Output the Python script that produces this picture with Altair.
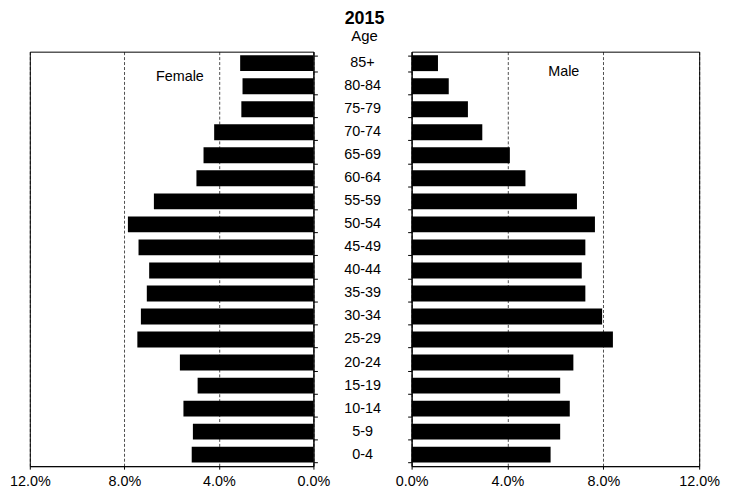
import altair as alt
import pandas as pd

ages = ["85+", "80-84", "75-79", "70-74", "65-69", "60-64", "55-59", "50-54", "45-49",
        "40-44", "35-39", "30-34", "25-29", "20-24", "15-19", "10-14", "5-9", "0-4"]
female = [3.1, 3.0, 3.05, 4.2, 4.65, 4.95, 6.75, 7.85, 7.4, 6.95, 7.05, 7.3, 7.45,
          5.65, 4.9, 5.5, 5.1, 5.15]
male = [1.1, 1.55, 2.35, 2.95, 4.1, 4.75, 6.9, 7.65, 7.25, 7.1, 7.25, 7.95, 8.4,
        6.75, 6.2, 6.6, 6.2, 5.8]
ticks = [0, 4, 8, 12]

df = pd.DataFrame({"age": ages, "female": female, "male": male})
lab_f = pd.DataFrame({"label": ["Female"], "x": [5.65], "age": ["85+"]})
lab_m = pd.DataFrame({"label": ["Male"], "x": [6.35], "age": ["85+"]})

FONT = "Liberation Sans"
FS = 14.5
H = 418

yscale = alt.Scale(domain=ages, paddingInner=0.31, paddingOuter=0.155)
box = alt.ViewBackground(stroke="black", strokeWidth=1)

def xaxis():
    return alt.Axis(values=ticks, labelExpr="format(datum.value, '.1f') + '%'",
                    title=None, grid=True, gridColor="black", gridDash=[3, 2],
                    gridWidth=0.7, domainColor="black", tickColor="black",
                    tickSize=3, labelPadding=5, labelFontSize=FS, labelFlush=False,
                    labelColor="black", labelFont=FONT)

def yaxis(orient):
    return alt.Axis(orient=orient, labels=False, title=None, tickBand="extent",
                    domainColor="black", tickColor="black", tickSize=4, grid=False)

left_bars = alt.Chart(df).mark_bar(color="black").encode(
    x=alt.X("female:Q", scale=alt.Scale(domain=[0, 12], reverse=True, nice=False),
            axis=xaxis()),
    y=alt.Y("age:N", scale=yscale, axis=yaxis("right")),
)
left_text = alt.Chart(lab_f).mark_text(font=FONT, fontSize=FS, color="black", dy=14).encode(
    x=alt.X("x:Q"), y=alt.Y("age:N"), text="label:N")
left = alt.layer(left_bars, left_text).properties(width=286, height=H, view=box)

right_bars = alt.Chart(df).mark_bar(color="black").encode(
    x=alt.X("male:Q", scale=alt.Scale(domain=[0, 12], nice=False), axis=xaxis()),
    y=alt.Y("age:N", scale=yscale, axis=yaxis("left")),
)
right_text = alt.Chart(lab_m).mark_text(font=FONT, fontSize=FS, color="black", dy=9).encode(
    x=alt.X("x:Q"), y=alt.Y("age:N"), text="label:N")
right = alt.layer(right_bars, right_text).properties(width=290, height=H, view=box)

middle = alt.Chart(df).mark_text(font=FONT, fontSize=FS, color="black").encode(
    y=alt.Y("age:N", scale=yscale, axis=None),
    text="age:N",
).properties(width=99, height=H, view=alt.ViewBackground(stroke="transparent"))

chart = alt.hconcat(left, middle, right, spacing=0, bounds="flush").resolve_scale(
    y="independent"
).properties(
    padding={"left": 0, "right": 0, "top": 0, "bottom": 0},
    title=alt.TitleParams(text="2015", subtitle="Age", anchor="middle", fontSize=18,
                          fontWeight="bold", font=FONT, color="black",
                          subtitleFont=FONT, subtitleFontSize=15, subtitleColor="black",
                          subtitlePadding=1, offset=7)
).configure(background="white")

chart.save("out.html", embed_options={"renderer": "svg", "actions": False})
